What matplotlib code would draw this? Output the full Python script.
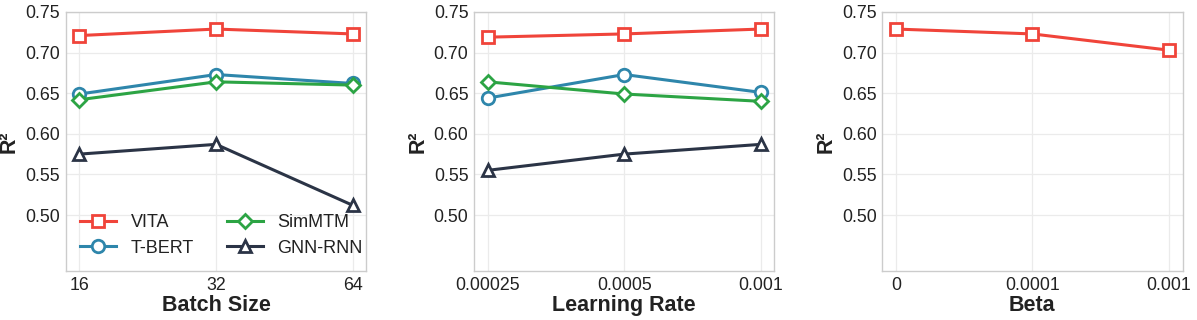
import matplotlib
matplotlib.use('Agg')
import matplotlib.pyplot as plt

plt.rcParams['font.family'] = ['Liberation Sans', 'DejaVu Sans']

# x categories for the three sweeps
batch_sizes = ['16', '32', '64']
learning_rates = ['0.00025', '0.0005', '0.001']
betas = ['0', '0.0001', '0.001']

# R²
vita_bs = [0.721, 0.729, 0.723]
tbert_bs = [0.649, 0.673, 0.662]
simmtm_bs = [0.642, 0.664, 0.660]
gnnrnn_bs = [0.575, 0.587, 0.512]

vita_lr = [0.719, 0.723, 0.729]
tbert_lr = [0.644, 0.673, 0.651]
simmtm_lr = [0.664, 0.649, 0.640]
gnnrnn_lr = [0.555, 0.575, 0.587]

vita_beta = [0.729, 0.723, 0.703]

styles = {
    'VITA': dict(color='#F0443A', marker='s'),
    'T-BERT': dict(color='#2E86AB', marker='o'),
    'SimMTM': dict(color='#2CA444', marker='D'),
    'GNN-RNN': dict(color='#2B3446', marker='^'),
}
text_color = '#222222'


def draw(ax, labels, series, xlabel):
    x = list(range(len(labels)))
    for name, vals in series:
        st = styles[name]
        ms = 7.5 if st['marker'] == 'D' else 9
        ax.plot(x, vals, color=st['color'], marker=st['marker'], markersize=ms,
                markerfacecolor='white', markeredgewidth=2, linewidth=2.2,
                label=name, zorder=3)
    ax.set_xticks(x)
    ax.set_xticklabels(labels)
    ax.set_xlim(-0.1, 2.1)
    ax.set_ylim(0.431, 0.75)
    ax.set_yticks([0.50, 0.55, 0.60, 0.65, 0.70, 0.75])
    ax.set_yticklabels(['0.50', '0.55', '0.60', '0.65', '0.70', '0.75'])
    ax.grid(True, color='#EBEBEB', linewidth=0.9, zorder=0)
    ax.set_axisbelow(True)
    for s in ax.spines.values():
        s.set_color('#CCCCCC')
        s.set_linewidth(1.0)
    ax.tick_params(axis='both', labelsize=12.8, colors=text_color, length=0, pad=4)
    ax.set_xlabel(xlabel, fontsize=15.5, fontweight='bold', color=text_color, labelpad=1)
    ax.set_ylabel('R²', fontsize=15.5, fontweight='bold', color=text_color, labelpad=4)


fig = plt.figure(figsize=(11.97, 3.2), dpi=100)
bottom, top = 0.153, 0.9625
ax1 = fig.add_axes([0.055, bottom, 0.251, top - bottom])
ax2 = fig.add_axes([0.396, bottom, 0.251, top - bottom])
ax3 = fig.add_axes([0.737, bottom, 0.251, top - bottom])

draw(ax1, batch_sizes, [('VITA', vita_bs), ('T-BERT', tbert_bs),
                        ('SimMTM', simmtm_bs), ('GNN-RNN', gnnrnn_bs)], 'Batch Size')
draw(ax2, learning_rates, [('VITA', vita_lr), ('T-BERT', tbert_lr),
                           ('SimMTM', simmtm_lr), ('GNN-RNN', gnnrnn_lr)], 'Learning Rate')
draw(ax3, betas, [('VITA', vita_beta)], 'Beta')

leg = ax1.legend(loc='lower left', ncol=2, frameon=False, fontsize=13,
                 handlelength=2.0, columnspacing=1.8, borderaxespad=0.4,
                 labelspacing=0.45, bbox_to_anchor=(0.0, 0.0))
for t in leg.get_texts():
    t.set_color(text_color)

fig.savefig('out.png', dpi=100)
